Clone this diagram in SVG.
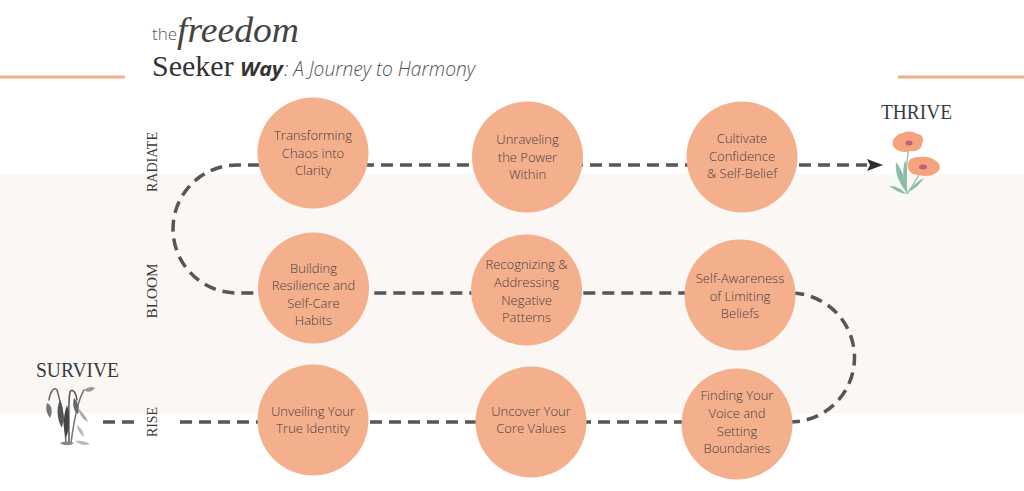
<svg xmlns="http://www.w3.org/2000/svg" width="1024" height="491" viewBox="0 0 1024 491">
<defs>
<style>
.node circle{fill:#F4AF8D}
.node text{font-family:"Open Sans","Liberation Sans",sans-serif;font-size:13px;font-weight:300;fill:#4a3f3d;text-anchor:middle}
.stage{font-family:"Liberation Serif",serif;font-size:15px;fill:#3a3a3a;text-anchor:middle}
.big{font-family:"Liberation Serif",serif;font-size:21px;fill:#3a3a3a}
.dash{fill:none;stroke:#565656;stroke-width:3.5;stroke-dasharray:12 7}
.rule{stroke:#F4AE8A;stroke-width:3}
</style>
<marker id="arrow" markerWidth="16" markerHeight="12" refX="0" refY="6" orient="auto" markerUnits="userSpaceOnUse">
<path d="M0,0 L16,6 L0,12 L3,6 Z" fill="#2e2e2e"/>
</marker>
</defs>
<rect width="1024" height="491" fill="#fff"/>
<rect x="0" y="174" width="1024" height="239" fill="#FBF7F4"/>

<line class="rule" x1="0" y1="77" x2="125" y2="77"/>
<line class="rule" x1="898" y1="77" x2="1024" y2="77"/>

<g id="title">
<text x="152" y="40" font-family="Open Sans, sans-serif" font-size="17" font-weight="300" fill="#555">the</text>
<text x="177" y="42" font-family="Liberation Serif, serif" font-style="italic" font-size="36" fill="#444" textLength="122" lengthAdjust="spacingAndGlyphs">freedom</text>
<text x="152" y="76" font-family="Liberation Serif, serif" font-size="30" fill="#333">Seeker</text>
<text x="240" y="76" font-family="Open Sans, sans-serif" font-size="20" font-weight="700" font-style="italic" fill="#333" textLength="43" lengthAdjust="spacingAndGlyphs">Way</text>
<text x="284" y="76" font-family="Open Sans, sans-serif" font-size="20" font-weight="300" font-style="italic" fill="#555" textLength="191" lengthAdjust="spacingAndGlyphs">: A Journey to Harmony</text>
</g>

<g id="connectors">
<path class="dash" d="M103,422 H135"/>
<path class="dash" d="M180,422 H790 A64.5,64.5 0 0 0 790,293 H237 A64,64 0 0 1 237,165 H867" marker-end="url(#arrow)"/>
</g>

<g id="stage-labels">
<text class="stage" transform="translate(157,162) rotate(-90)" textLength="60" lengthAdjust="spacingAndGlyphs">RADIATE</text>
<text class="stage" transform="translate(157,291) rotate(-90)" textLength="55" lengthAdjust="spacingAndGlyphs">BLOOM</text>
<text class="stage" transform="translate(157,422) rotate(-90)" textLength="30" lengthAdjust="spacingAndGlyphs">RISE</text>
</g>

<g id="thrive">
<text class="big" x="881" y="119" textLength="71" lengthAdjust="spacingAndGlyphs">THRIVE</text>
<g id="thrive-flowers">
<path d="M907,194 C905,180 906,165 909,146" stroke="#9cc7b6" stroke-width="1.5" fill="none"/>
<path d="M907,194 C913,185 918,178 922,168" stroke="#9cc7b6" stroke-width="1.5" fill="none"/>
<path d="M907,193 C898,182 895,172 896,162 C902,170 906,180 907,193 Z" fill="#8dbba9"/>
<path d="M906,194 C902,189 896,186 889,186 C895,190 900,193 906,194 Z" fill="#8dbba9"/>
<path d="M908,192 C915,189 920,184 924,178 C918,181 912,186 908,192 Z" fill="#8dbba9"/>
<path d="M906,186 C902,178 903,168 905,160 C907,168 908,178 906,186 Z" fill="#8dbba9"/>
<path d="M893,146 C891,140 896,134 903,133 C907,131 913,131 917,134 C922,134 925,139 922,144 C922,149 916,152 910,151 C904,153 897,152 893,146 Z" fill="#F5A27E"/>
<ellipse cx="909" cy="143" rx="3.5" ry="2.5" fill="#c25f78"/>
<path d="M908,165 C908,159 913,157 919,157 C924,156 932,157 936,161 C941,164 941,170 936,173 C932,176 925,177 919,175 C912,175 907,171 908,165 Z" fill="#F5A27E"/>
<ellipse cx="923" cy="167" rx="4" ry="2.5" fill="#c25f78"/>
</g>
</g>

<g id="survive">
<text class="big" x="36" y="377" textLength="83" lengthAdjust="spacingAndGlyphs">SURVIVE</text>
<g id="survive-plant" fill="none" stroke-linecap="round">
<path d="M66,443 C65,420 60,400 57,390 C54,386 50,392 49,400" stroke="#666" stroke-width="1.5"/>
<path d="M69,443 C69,420 68,402 70,392 C72,388 76,392 77,400" stroke="#555" stroke-width="1.5"/>
<path d="M71,443 C74,420 78,400 84,390" stroke="#777" stroke-width="1.5"/>
<path d="M47,403 C45,409 47,414 50,418 C53,412 52,405 47,403 Z" fill="#777" stroke="none"/>
<path d="M60,400 C56,408 57,420 62,428 C64,418 64,408 60,400 Z" fill="#555" stroke="none"/>
<path d="M67,405 C63,415 63,428 66,438 C70,428 70,415 67,405 Z" fill="#444" stroke="none"/>
<path d="M74,398 C72,404 74,412 78,414 C80,408 78,402 74,398 Z" fill="#666" stroke="none"/>
<path d="M84,390 C88,387 92,386 95,388 C92,392 88,393 84,390 Z" fill="#999" stroke="none"/>
<path d="M78,408 C82,412 86,416 88,422 C83,420 79,414 78,408 Z" fill="#aaa" stroke="none"/>
<path d="M77,425 C81,428 84,432 84,437 C80,434 77,430 77,425 Z" fill="#bbb" stroke="none"/>
<path d="M75,441 C80,440 86,441 90,444 C85,446 80,445 75,441 Z" fill="#bbb" stroke="none"/>
<path d="M60,443 C64,441 70,441 74,443 C70,446 64,446 60,443 Z" fill="#888" stroke="none"/>
</g>
</g>

<g id="n1" class="node"><circle cx="313" cy="153" r="55.5"/><text x="313" y="140">Transforming</text><text x="313" y="158">Chaos into</text><text x="313" y="175">Clarity</text></g>
<g id="n2" class="node"><circle cx="527.5" cy="157" r="55.5"/><text x="527.5" y="144">Unraveling</text><text x="527.5" y="162">the Power</text><text x="527.5" y="179">Within</text></g>
<g id="n3" class="node"><circle cx="742" cy="157" r="55.5"/><text x="742" y="143">Cultivate</text><text x="742" y="161">Confidence</text><text x="742" y="178">&amp; Self-Belief</text></g>
<g id="n4" class="node"><circle cx="313.5" cy="288" r="55.5"/><text x="313.5" y="272.5">Building</text><text x="313.5" y="290">Resilience and</text><text x="313.5" y="307.5">Self-Care</text><text x="313.5" y="325">Habits</text></g>
<g id="n5" class="node"><circle cx="526.5" cy="290" r="55.5"/><text x="526.5" y="269">Recognizing &amp;</text><text x="526.5" y="287">Addressing</text><text x="526.5" y="304.5">Negative</text><text x="526.5" y="322">Patterns</text></g>
<g id="n6" class="node"><circle cx="740" cy="295" r="55.5"/><text x="740" y="283">Self-Awareness</text><text x="740" y="301">of Limiting</text><text x="740" y="318">Beliefs</text></g>
<g id="n7" class="node"><circle cx="313" cy="420" r="55.5"/><text x="313" y="416">Unveiling Your</text><text x="313" y="433">True Identity</text></g>
<g id="n8" class="node"><circle cx="531" cy="422" r="55.5"/><text x="531" y="416">Uncover Your</text><text x="531" y="433">Core Values</text></g>
<g id="n9" class="node"><circle cx="737" cy="424" r="55.5"/><text x="737" y="400">Finding Your</text><text x="737" y="418">Voice and</text><text x="737" y="435.5">Setting</text><text x="737" y="453">Boundaries</text></g>
</svg>
